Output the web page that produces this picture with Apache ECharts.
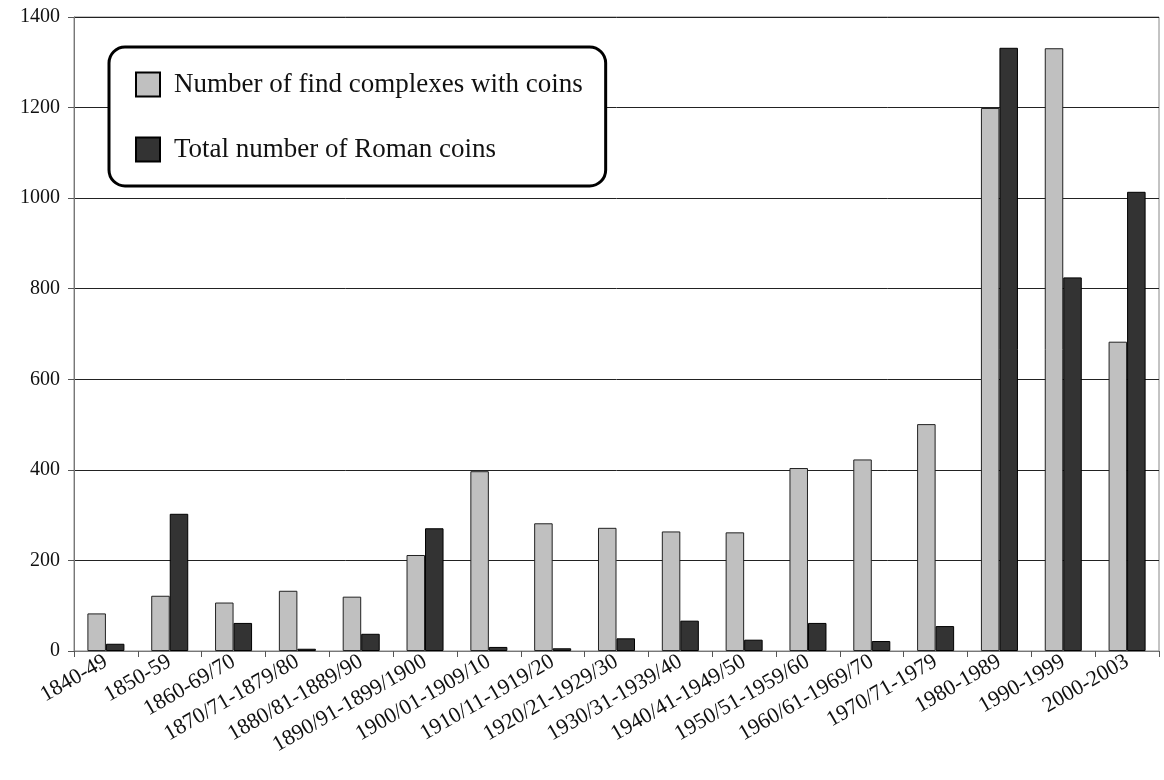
<!DOCTYPE html>
<html>
<head>
<meta charset="utf-8">
<script src="https://cdn.jsdelivr.net/npm/echarts@6/dist/echarts.min.js"></script>
<style>
  html, body { margin: 0; padding: 0; background: #fff; }
  #chart { width: 1164px; height: 780px; }
</style>
</head>
<body>
<div id="chart"></div>
<script>
const periods = [
  "1840-49", "1850-59", "1860-69/70", "1870/71-1879/80", "1880/81-1889/90",
  "1890/91-1899/1900", "1900/01-1909/10", "1910/11-1919/20", "1920/21-1929/30",
  "1930/31-1939/40", "1940/41-1949/50", "1950/51-1959/60", "1960/61-1969/70",
  "1970/71-1979", "1980-1989", "1990-1999", "2000-2003"
];
const findComplexes = [83, 122, 107, 133, 120, 212, 397, 282, 272, 264, 262, 404, 423, 501, 1199, 1331, 683];
const romanCoins = [16, 303, 62, 5, 38, 271, 9, 6, 28, 67, 25, 62, 22, 55, 1332, 825, 1014];
const yTicks = [0, 200, 400, 600, 800, 1000, 1200, 1400];

document.addEventListener("DOMContentLoaded", function () {
  const chartDom = document.getElementById("chart");
  const myChart = echarts.init(chartDom);
  const font = "'Liberation Serif', 'DejaVu Serif', serif";

  const option = {
    animation: false,
    textStyle: { fontFamily: font },
    grid: {
      left: 74,
      right: 5,
      top: 17,
      bottom: 129,
      show: true,
      borderColor: "#888",
      borderWidth: 1,
    },
    legend: {
      orient: "vertical",
      left: 109,
      top: 47,
      padding: [24, 23, 23, 26],
      itemGap: 38,
      itemWidth: 24,
      itemHeight: 24,
      icon: "rect",
      backgroundColor: "#fff",
      borderColor: "#000",
      borderWidth: 3,
      borderRadius: 16,
      itemStyle: { borderColor: "#000", borderWidth: 2 },
      textStyle: {
        fontFamily: font,
        fontSize: 27,
        color: "#111",
        padding: [0, 0, 0, 9],
      },
    },
    xAxis: {
      type: "category",
      data: periods,
      axisLine: { lineStyle: { color: "#777", width: 1 } },
      axisTick: { show: true, length: 6, lineStyle: { color: "#555" } },
      axisLabel: {
        interval: 0,
        rotate: 30,
        margin: 9,
        fontFamily: font,
        fontSize: 22,
        color: "#111",
      },
    },
    yAxis: {
      type: "value",
      min: yTicks[0],
      max: yTicks[yTicks.length - 1],
      interval: 200,
      axisLine: { show: true, lineStyle: { color: "#777", width: 1 } },
      axisTick: { show: true, length: 6, lineStyle: { color: "#555" } },
      axisLabel: {
        margin: 14,
        fontFamily: font,
        fontSize: 20,
        color: "#111",
        formatter: function (v) { return String(v); },
      },
      splitLine: { show: true, lineStyle: { color: "#222", width: 1 } },
    },
    series: [
      {
        name: "Number of find complexes with coins",
        type: "bar",
        data: findComplexes,
        barGap: "0%",
        barCategoryGap: "42%",
        itemStyle: { color: "#c0c0c0", borderColor: "#222", borderWidth: 1 },
      },
      {
        name: "Total number of Roman coins",
        type: "bar",
        data: romanCoins,
        itemStyle: { color: "#333333", borderColor: "#000", borderWidth: 1 },
      },
    ],
  };

  myChart.setOption(option);
});
</script>
</body>
</html>
